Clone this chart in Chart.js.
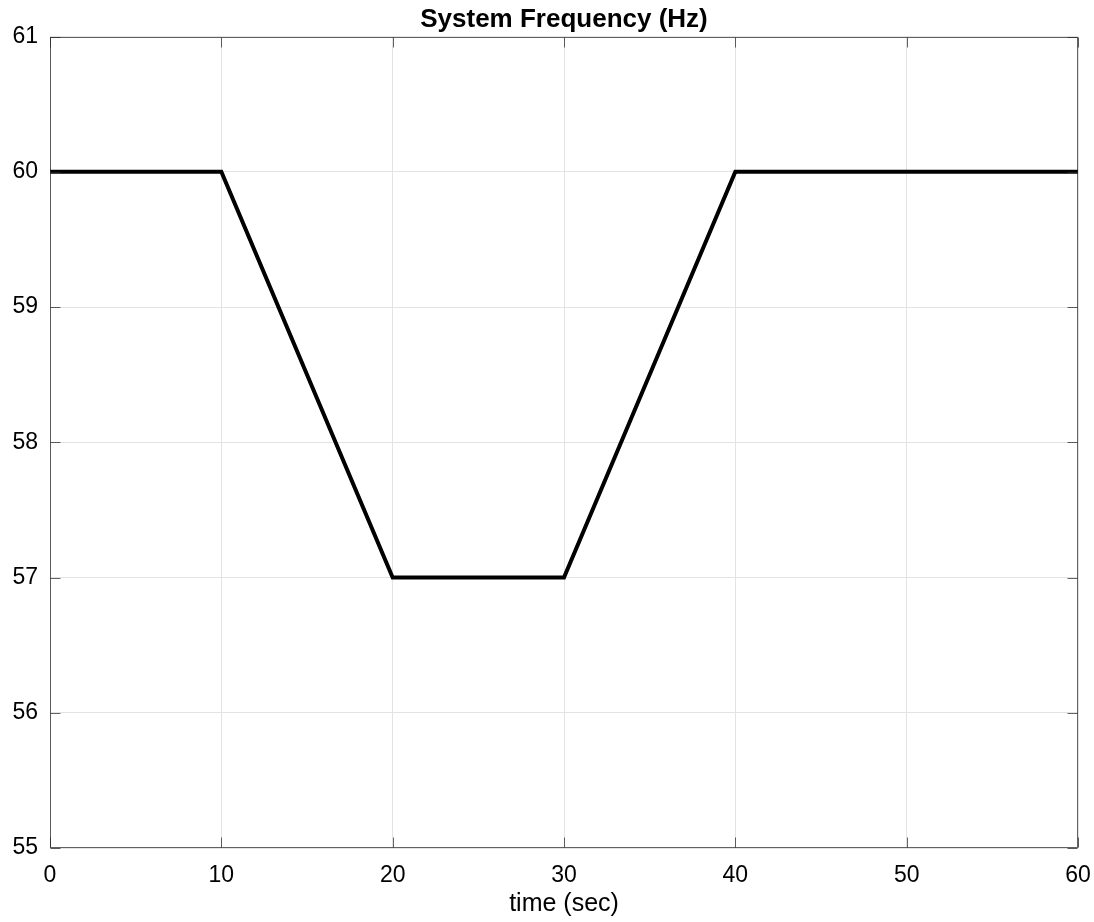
<!DOCTYPE html>
<html>
<head>
<meta charset="utf-8">
<script src="https://cdn.jsdelivr.net/npm/chart.js@4/dist/chart.umd.min.js"></script>
<style>
  html, body { margin: 0; padding: 0; background: #fff; }
  #wrap { width: 1094px; height: 922px; }
</style>
</head>
<body>
<div id="wrap"><canvas id="chart" width="1094" height="922"></canvas></div>
<script>
// data //
const timeSec = [0, 10, 20, 30, 40, 60];
const freqHz = [60, 60, 57, 57, 60, 60];
const xTicks = [0, 10, 20, 30, 40, 50, 60];
const yTicks = [55, 56, 57, 58, 59, 60, 61];

const font = 'Liberation Sans, Arial, sans-serif';
const ctx = document.querySelector('#chart').getContext('2d');

// frame + inward tick marks, placed through the scales
const frame = {
    id: 'frame',
    afterDatasetsDraw(chart) {
        const { ctx, chartArea: a, scales: { x, y } } = chart;
        const L = Math.round(a.left) + 0.5, R = Math.round(a.right) - 0.5;
        const T = Math.round(a.top) + 0.5, B = Math.round(a.bottom) - 0.5;
        ctx.save();
        ctx.strokeStyle = 'rgba(38,38,38,0.72)';
        ctx.lineWidth = 1;
        ctx.strokeRect(L, T, R - L, B - T);
        ctx.beginPath();
        xTicks.forEach(v => {
            const px = Math.round(x.getPixelForValue(v)) + 0.5;
            ctx.moveTo(px, B); ctx.lineTo(px, B - 10);
            ctx.moveTo(px, T); ctx.lineTo(px, T + 10);
        });
        yTicks.forEach(v => {
            const py = Math.round(y.getPixelForValue(v)) + 0.5;
            ctx.moveTo(L, py); ctx.lineTo(L + 10, py);
            ctx.moveTo(R, py); ctx.lineTo(R - 10, py);
        });
        ctx.stroke();
        ctx.restore();
    }
};

new Chart(ctx, {
    type: 'line',
    data: {
        datasets: [{
            data: timeSec.map((t, i) => ({ x: t, y: freqHz[i] })),
            borderColor: '#000',
            borderWidth: 4,
            pointRadius: 0,
            tension: 0,
            borderJoinStyle: 'miter'
        }]
    },
    options: {
        responsive: false,
        animation: false,
        layout: { padding: { right: 16, left: 0, bottom: 0 } },
        plugins: {
            legend: { display: false },
            tooltip: { enabled: false },
            title: {
                display: true,
                fullSize: false,
                text: 'System Frequency (Hz)',
                color: '#000',
                font: { family: font, size: 26, weight: 'bold' },
                padding: { top: 4.2, bottom: 1.1 }
            }
        },
        scales: {
            x: {
                type: 'linear',
                min: 0, max: 60,
                afterFit(s) { s.height = 74; s.paddingLeft = 0; s.paddingRight = 0; },
                afterBuildTicks(s) { s.ticks = xTicks.map(v => ({ value: v })); },
                grid: { color: '#e3e3e3', drawTicks: false },
                border: { display: false },
                ticks: { color: '#000', font: { family: font, size: 23 }, padding: 14, maxRotation: 0 },
                title: {
                    display: true, text: 'time (sec)', color: '#000',
                    font: { family: font, size: 25 }, padding: { top: 2, bottom: 3 }
                }
            },
            y: {
                min: 55, max: 61,
                afterFit(s) { s.width = 50; s.paddingTop = 0; s.paddingBottom = 0; },
                afterBuildTicks(s) { s.ticks = yTicks.map(v => ({ value: v })); },
                grid: { color: '#e3e3e3', drawTicks: false },
                border: { display: false },
                ticks: { color: '#000', font: { family: font, size: 23 }, padding: 12 }
            }
        }
    },
    plugins: [frame]
});
</script>
</body>
</html>
